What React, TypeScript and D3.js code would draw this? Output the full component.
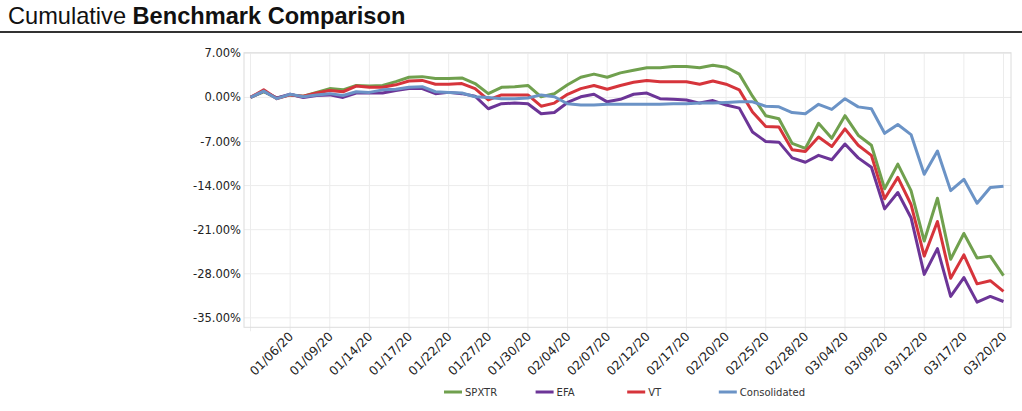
import React, { useEffect, useRef } from 'react';
import * as d3 from 'd3';

// weekdays 01/01/20 .. 03/20/20
const dates = [
    '01/01/20', '01/02/20', '01/03/20', '01/06/20', '01/07/20', '01/08/20', '01/09/20', '01/10/20',
    '01/13/20', '01/14/20', '01/15/20', '01/16/20', '01/17/20', '01/20/20', '01/21/20', '01/22/20',
    '01/23/20', '01/24/20', '01/27/20', '01/28/20', '01/29/20', '01/30/20', '01/31/20', '02/03/20',
    '02/04/20', '02/05/20', '02/06/20', '02/07/20', '02/10/20', '02/11/20', '02/12/20', '02/13/20',
    '02/14/20', '02/17/20', '02/18/20', '02/19/20', '02/20/20', '02/21/20', '02/24/20', '02/25/20',
    '02/26/20', '02/27/20', '02/28/20', '03/02/20', '03/03/20', '03/04/20', '03/05/20', '03/06/20',
    '03/09/20', '03/10/20', '03/11/20', '03/12/20', '03/13/20', '03/16/20', '03/17/20', '03/18/20',
    '03/19/20', '03/20/20',
];

const spxtr = [
    0, 0.9, -0.1, 0.4, 0.2, 0.8, 1.4, 1.2, 1.9, 1.8,
    1.9, 2.5, 3.2, 3.3, 3.0, 3.0, 3.1, 2.2, 0.6, 1.6,
    1.7, 1.9, 0.1, 0.6, 2.0, 3.2, 3.7, 3.2, 3.9, 4.3,
    4.7, 4.7, 4.9, 4.9, 4.7, 5.1, 4.8, 3.7, 0.2, -2.9,
    -3.4, -7.3, -8.1, -4.1, -6.5, -2.9, -6.0, -7.6, -14.5, -10.6,
    -14.8, -22.8, -16.0, -25.7, -21.6, -25.5, -25.2, -28.3,
];

const efa = [
    0, 1.0, -0.1, 0.5, 0.0, 0.3, 0.4, 0.0, 0.7, 0.7,
    0.7, 1.1, 1.4, 1.4, 0.6, 0.8, 0.6, 0.2, -1.8, -1.0,
    -0.9, -1.0, -2.6, -2.4, -0.8, 0.1, 0.5, -0.7, -0.3, 0.5,
    0.7, -0.2, -0.3, -0.4, -0.9, -0.5, -1.2, -1.7, -5.5, -7.0,
    -7.1, -9.6, -10.3, -9.2, -9.9, -7.4, -9.6, -11.1, -17.7, -15.1,
    -19.1, -28.1, -24.0, -31.6, -28.6, -32.5, -31.6, -32.4,
];

const vt = [
    0, 1.2, -0.2, 0.4, 0.2, 0.7, 1.1, 0.9, 1.8, 1.6,
    1.6, 2.0, 2.6, 2.7, 2.1, 2.1, 2.2, 1.4, -0.4, 0.4,
    0.4, 0.4, -1.4, -0.9, 0.5, 1.4, 1.9, 1.3, 1.9, 2.4,
    2.7, 2.5, 2.5, 2.5, 2.1, 2.6, 2.1, 1.2, -2.3, -4.6,
    -4.7, -8.3, -8.6, -6.3, -7.8, -5.0, -7.6, -9.2, -16.1, -12.7,
    -17.0, -25.2, -19.7, -28.7, -25.0, -29.6, -29.1, -30.8,
];

const consolidated = [
    0, 1.0, -0.2, 0.5, 0.1, 0.4, 0.6, 0.3, 0.9, 0.8,
    1.2, 1.3, 1.6, 1.7, 0.9, 0.8, 0.7, 0.1, 0.0, -0.2,
    -0.2, -0.1, 0.4, 0.1, -1.0, -1.2, -1.2, -1.1, -1.1, -1.1,
    -1.1, -1.1, -1.0, -1.0, -0.9, -0.9, -0.8, -0.7, -0.7, -1.4,
    -1.5, -2.4, -2.6, -1.1, -1.9, -0.2, -1.5, -1.8, -5.7, -4.3,
    -5.9, -12.2, -8.5, -14.8, -13.0, -16.8, -14.3, -14.1,
];

const yTicks = [7, 0, -7, -14, -21, -28, -35];

const series = [
    { name: 'SPXTR', values: spxtr, color: '#70a04e' },
    { name: 'EFA', values: efa, color: '#6c3597' },
    { name: 'VT', values: vt, color: '#d6343b' },
    { name: 'Consolidated', values: consolidated, color: '#6b93c6' },
];

const W = 1022;
const H = 411;

export default function App() {
    const svgRef = useRef<SVGSVGElement>(null);

    useEffect(() => {
        if (!svgRef.current) return;
        const svg = d3.select(svgRef.current);
        svg.selectAll('*').remove();

        const plot = { left: 244, right: 1011, top: 52.7, bottom: 327.3 };

        const x = d3.scalePoint<string>()
            .domain(dates)
            .range([250.5, 1003.5]);

        const y = d3.scaleLinear()
            .domain([-36.5, 7.1])
            .range([plot.bottom, plot.top]);

        // title
        const title = svg.append('text')
            .attr('x', 8)
            .attr('y', 23.5)
            .style('font-family', '"Liberation Sans", Arial, sans-serif')
            .style('font-size', '23.6px')
            .style('fill', '#111');
        title.append('tspan').text('Cumulative ');
        title.append('tspan').style('font-weight', 'bold').text('Benchmark Comparison');

        svg.append('rect')
            .attr('x', 0).attr('y', 31)
            .attr('width', W).attr('height', 2)
            .attr('fill', '#333');

        // grid
        const tickDates = dates.filter((_, i) => i % 3 === 0);
        const g = svg.append('g');

        g.selectAll('line.hgrid')
            .data(yTicks)
            .join('line')
            .attr('class', 'hgrid')
            .attr('x1', plot.left).attr('x2', plot.right)
            .attr('y1', d => y(d)).attr('y2', d => y(d))
            .attr('stroke', '#ececec')
            .attr('stroke-width', 1);

        g.selectAll('line.vgrid')
            .data(tickDates)
            .join('line')
            .attr('class', 'vgrid')
            .attr('x1', d => x(d)!).attr('x2', d => x(d)!)
            .attr('y1', plot.top).attr('y2', plot.bottom + 4)
            .attr('stroke', '#ececec')
            .attr('stroke-width', 1);

        g.append('rect')
            .attr('x', plot.left).attr('y', plot.top)
            .attr('width', plot.right - plot.left)
            .attr('height', plot.bottom - plot.top)
            .attr('fill', 'none')
            .attr('stroke', '#dcdcdc')
            .attr('stroke-width', 1);

        // y labels
        g.selectAll('text.ylab')
            .data(yTicks)
            .join('text')
            .attr('class', 'ylab')
            .attr('x', 241)
            .attr('y', d => y(d))
            .attr('dy', '0.35em')
            .attr('text-anchor', 'end')
            .style('font-family', '"DejaVu Sans", Verdana, sans-serif')
            .style('font-size', '11.5px')
            .style('fill', '#222')
            .text(d => d.toFixed(2) + '%');

        // x labels (first tick has no label)
        g.selectAll('text.xlab')
            .data(tickDates.slice(1))
            .join('text')
            .attr('class', 'xlab')
            .attr('transform', d => `translate(${x(d)! + 4},${plot.bottom + 10}) rotate(-45)`)
            .attr('text-anchor', 'end')
            .style('font-family', '"DejaVu Sans", Verdana, sans-serif')
            .style('font-size', '12.3px')
            .style('fill', '#222')
            .text(d => d);

        // lines
        const line = d3.line<number>()
            .x((_, i) => x(dates[i])!)
            .y(d => y(d));

        svg.append('g')
            .selectAll('path')
            .data(series)
            .join('path')
            .attr('d', d => line(d.values))
            .attr('fill', 'none')
            .attr('stroke', d => d.color)
            .attr('stroke-width', 3)
            .attr('stroke-linejoin', 'round');

        // legend
        const legend = svg.append('g')
            .selectAll('g')
            .data(series)
            .join('g')
            .attr('transform', (_, i) => `translate(${444 + i * 91.6},392)`);

        legend.append('rect')
            .attr('x', 0).attr('y', -1.5)
            .attr('width', 18).attr('height', 3)
            .attr('fill', d => d.color);

        legend.append('text')
            .attr('x', 21)
            .attr('dy', '0.35em')
            .style('font-family', '"DejaVu Sans", Verdana, sans-serif')
            .style('font-size', '10px')
            .style('fill', '#333')
            .text(d => d.name);
    }, []);

    return (
        <div style={{ position: 'absolute', left: 0, top: 0, width: W, height: H, background: '#fff' }}>
            <svg ref={svgRef} width={W} height={H} />
        </div>
    );
}
